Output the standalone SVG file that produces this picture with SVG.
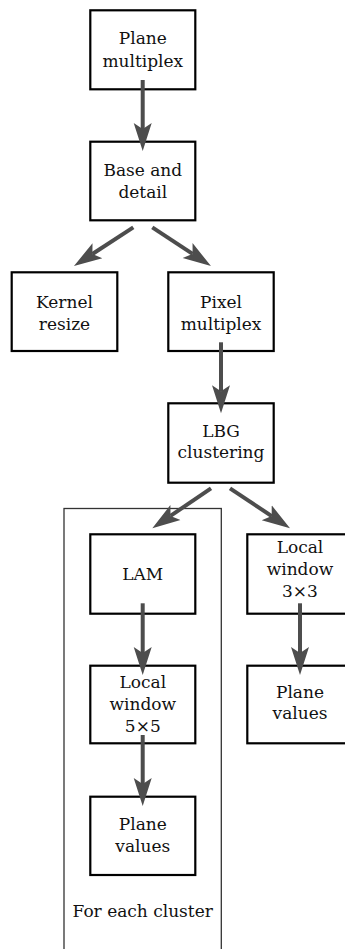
<svg xmlns="http://www.w3.org/2000/svg" width="345" height="949" viewBox="0 0 345 949">
  <style>
    .box { fill: #ffffff; stroke: #000000; stroke-width: 2.2; }
    .frame { fill: none; stroke: #333333; stroke-width: 1.3; }
    .lbl { font-family: "DejaVu Serif", "Liberation Serif", serif; font-size: 17px; fill: #111111; text-anchor: middle; }
    .edge { stroke: #4d4d4d; stroke-width: 4; fill: none; marker-end: url(#head); }
  </style>
  <defs>
    <marker id="head" markerUnits="userSpaceOnUse" markerWidth="30" markerHeight="22" viewBox="0 -10 30 20" refX="6" refY="0" orient="auto">
      <path d="M0,-9 L28,0 L0,9 L6,0 Z" fill="#4d4d4d"/>
    </marker>
  </defs>

  <rect width="345" height="949" fill="#ffffff"/>

  <!-- per-cluster frame -->
  <g id="cluster-frame">
    <rect class="frame" x="64" y="508.5" width="157.3" height="460"/>
    <text class="lbl" x="142.7" y="916.7">For each cluster</text>
  </g>

  <g id="plane-multiplex">
    <rect class="box" x="90.3" y="10.3" width="105" height="79"/>
    <text class="lbl" x="142.8" y="44">Plane</text>
    <text class="lbl" x="142.8" y="66.7">multiplex</text>
  </g>

  <g id="base-detail">
    <rect class="box" x="90.3" y="141.7" width="105" height="78.6"/>
    <text class="lbl" x="142.8" y="176">Base and</text>
    <text class="lbl" x="142.8" y="198.3">detail</text>
  </g>

  <g id="kernel-resize">
    <rect class="box" x="11.7" y="272.3" width="105.6" height="78.7"/>
    <text class="lbl" x="64.5" y="308.3">Kernel</text>
    <text class="lbl" x="64.5" y="330">resize</text>
  </g>

  <g id="pixel-multiplex">
    <rect class="box" x="168.3" y="272.3" width="105.4" height="78.7"/>
    <text class="lbl" x="221" y="308.3">Pixel</text>
    <text class="lbl" x="221" y="330">multiplex</text>
  </g>

  <g id="lbg-clustering">
    <rect class="box" x="168.3" y="403.3" width="105.4" height="79.4"/>
    <text class="lbl" x="221" y="436.7">LBG</text>
    <text class="lbl" x="221" y="458.3">clustering</text>
  </g>

  <g id="lam">
    <rect class="box" x="90.3" y="534.3" width="105" height="79.4"/>
    <text class="lbl" x="142.8" y="580">LAM</text>
  </g>

  <g id="window-3x3">
    <rect class="box" x="247.3" y="534.3" width="105.4" height="79.4"/>
    <text class="lbl" x="300" y="553.3">Local</text>
    <text class="lbl" x="300" y="575">window</text>
    <text class="lbl" x="300" y="596.7">3×3</text>
  </g>

  <g id="window-5x5">
    <rect class="box" x="90.3" y="665.7" width="105" height="77.6"/>
    <text class="lbl" x="142.8" y="688.3">Local</text>
    <text class="lbl" x="142.8" y="710">window</text>
    <text class="lbl" x="142.8" y="732.3">5×5</text>
  </g>

  <g id="plane-values-global">
    <rect class="box" x="247.3" y="665.7" width="105.4" height="77.6"/>
    <text class="lbl" x="300" y="698.3">Plane</text>
    <text class="lbl" x="300" y="719.3">values</text>
  </g>

  <g id="plane-values-cluster">
    <rect class="box" x="90.3" y="796.7" width="105" height="78.3"/>
    <text class="lbl" x="142.8" y="830">Plane</text>
    <text class="lbl" x="142.8" y="851.7">values</text>
  </g>

  <!-- connectors: each line stops at the arrowhead notch, the marker supplies the tip -->
  <g id="connectors">
    <path class="edge" d="M142.7,80 L142.7,129"/>
    <path class="edge" d="M133.3,227.3 L92.4,254"/>
    <path class="edge" d="M152.3,227.3 L192.6,253.9"/>
    <path class="edge" d="M221,342.3 L221,391.3"/>
    <path class="edge" d="M211,488.3 L170.5,515.9"/>
    <path class="edge" d="M230,488.3 L271.7,516.1"/>
    <path class="edge" d="M142.7,603.3 L142.7,653"/>
    <path class="edge" d="M300,603.3 L300,653"/>
    <path class="edge" d="M142.7,735 L142.7,784"/>
  </g>
</svg>
